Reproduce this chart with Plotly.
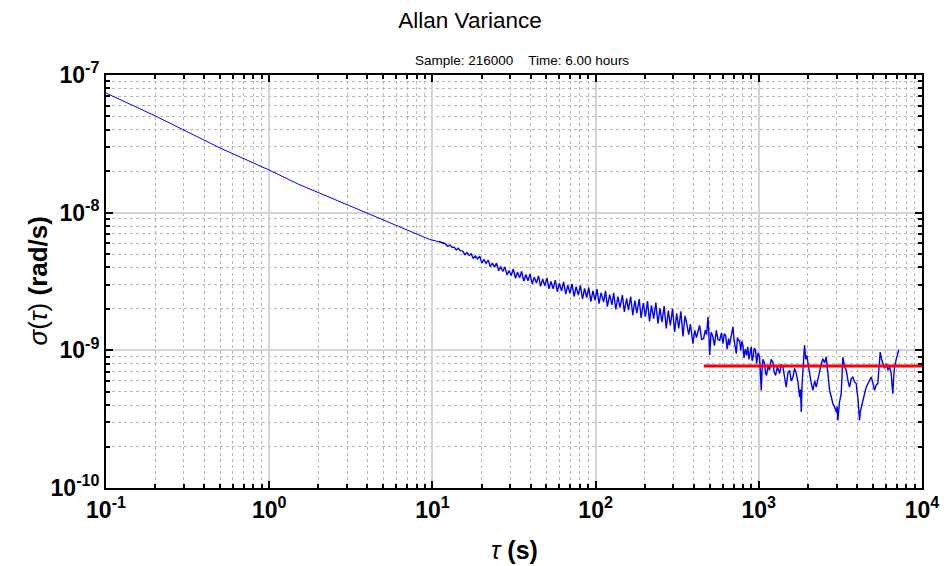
import plotly.graph_objects as go

# ---------------- data ----------------
# smooth, low-noise part (angle random walk region)
tau_smooth = [0.1, 0.2, 0.5, 1.0, 1.51, 4.77, 9.64, 11]
sigma_smooth = [7.4e-8, 5.05e-8, 2.95e-8, 2.04e-8, 1.61e-8, 9.08e-9, 6.38e-9, 6.15e-9]

# noisy band in the middle (values in 1e-9 rad/s)
tau_mid = [12, 12.4, 12.8, 13.2, 13.6, 14, 14.4, 14.8, 15.3, 15.8, 16.3, 16.8, 17.3, 17.8,
           18.3, 18.9, 19.5, 20.1, 20.7, 21.3, 22, 22.6, 23.3, 24, 24.7, 25.5, 26.2, 27,
           27.8, 28.7, 29.5, 30.4, 31.3, 32.3, 33.2, 34.2, 35.2, 36.3, 37.4, 38.5, 39.7,
           40.9, 42.1, 43.4, 44.7, 46, 47.4, 48.8, 50.3, 51.8, 53.3, 54.9, 56.6, 58.3, 60,
           61.8, 63.7, 65.6, 67.6, 69.6, 71.7, 73.8, 76, 78.3, 80.7, 83.1, 85.6, 88.1, 90.8,
           93.5, 96.3, 99.2, 102, 105, 108, 112, 115, 118, 122, 126, 129, 133, 137, 141, 146,
           150, 155, 159, 164, 169, 174, 179, 185, 190, 196, 202, 208, 214, 220, 227, 234,
           241, 248, 255, 263, 271, 279, 287, 296, 305, 314, 323, 333, 343, 353]
sigma_mid_e9 = [5.95, 5.70, 5.82, 5.60, 5.62, 5.36, 5.52, 5.30, 5.28, 4.96, 5.14, 4.90, 5.02,
                4.64, 4.86, 4.62, 4.82, 4.30, 4.58, 4.28, 4.52, 4.06, 4.30, 4.02, 4.30, 3.78,
                4.06, 3.74, 4.04, 3.52, 3.80, 3.50, 3.90, 3.34, 3.70, 3.36, 3.74, 3.18, 3.56,
                3.20, 3.58, 3.04, 3.40, 3.08, 3.48, 2.92, 3.30, 2.94, 3.36, 2.80, 3.16, 2.80,
                3.24, 2.66, 3.08, 2.70, 3.14, 2.56, 2.98, 2.60, 3.04, 2.46, 2.90, 2.52, 2.96,
                2.36, 2.82, 2.42, 2.86, 2.26, 2.70, 2.32, 2.78, 2.18, 2.62, 2.24, 2.70, 2.08,
                2.54, 2.14, 2.62, 1.98, 2.46, 2.04, 2.52, 1.90, 2.38, 1.96, 2.46, 1.80, 2.30,
                1.86, 2.36, 1.72, 2.20, 1.76, 2.28, 1.62, 2.12, 1.70, 2.22, 1.56, 2.02, 1.60,
                2.10, 1.44, 1.94, 1.52, 2.00, 1.36, 1.86, 1.44, 1.92, 1.26, 1.78]

# strongly fluctuating tail (values in 1e-10 rad/s)
tau_tail = [360, 372, 381, 395, 405, 415, 434, 446, 459, 470, 479, 488, 494, 500, 510, 521,
            535, 549, 562, 576, 590, 603, 614, 626, 640, 652, 662, 678, 694, 705, 716, 728,
            740, 750, 763, 775, 788, 799, 812, 826, 842, 856, 870, 885, 899, 910, 920, 938,
            955, 970, 990, 1011, 1022, 1035, 1048, 1060, 1085, 1100, 1116, 1140, 1164, 1190,
            1220, 1240, 1267, 1300, 1341, 1370, 1405, 1440, 1473, 1510, 1544, 1580, 1619,
            1655, 1698, 1740, 1779, 1800, 1821, 1840, 1862, 1885, 1907, 1940, 1971, 2010,
            2047, 2095, 2145, 2200, 2249, 2300, 2355, 2410, 2468, 2530, 2588, 2620, 2649,
            2680, 2716, 2780, 2844, 2910, 2985, 3020, 3050, 3120, 3200, 3240, 3273, 3350,
            3436, 3520, 3597, 3680, 3770, 3860, 3954, 4000, 4046, 4090, 4141, 4190, 4243,
            4340, 4446, 4550, 4659, 4770, 4886, 5000, 5118, 5240, 5360, 5450, 5546, 5650,
            5754, 5900, 6050, 6177, 6330, 6477, 6550, 6626, 6700, 6786, 6950, 7113, 7213]
sigma_tail_e10 = [16.1, 13.0, 15.5, 11.2, 14.0, 12.4, 15.2, 12.0, 12.2, 14.0, 13.0, 17.5,
                  13.5, 9.2, 13.5, 12.8, 10.8, 14.0, 12.0, 11.8, 13.4, 11.2, 13.2, 12.8,
                  10.2, 12.2, 10.9, 12.5, 14.8, 12.0, 10.4, 9.46, 12.4, 11.8, 11.8, 10.0,
                  11.6, 10.9, 8.8, 10.2, 9.2, 10.6, 8.6, 9.8, 10.6, 8.4, 8.7, 10.4, 10.0,
                  8.0, 9.6, 8.94, 7.2, 5.12, 7.4, 8.6, 8.0, 6.8, 6.58, 7.8, 7.16, 8.6, 8.22,
                  7.0, 6.58, 7.6, 6.77, 7.9, 7.56, 6.2, 5.41, 6.9, 7.16, 6.0, 6.40, 7.4, 6.77,
                  5.8, 4.57, 5.2, 3.56, 5.6, 7.16, 9.4, 10.9, 8.6, 9.2, 7.8, 6.77, 5.8, 5.12,
                  6.0, 5.41, 6.2, 6.77, 7.9, 8.7, 8.1, 8.94, 7.8, 7.16, 6.0, 5.12, 4.6, 4.09,
                  3.9, 3.56, 3.9, 3.10, 4.2, 4.84, 6.8, 8.94, 7.6, 7.16, 6.0, 5.41, 6.2, 6.40,
                  5.9, 5.73, 5.0, 4.57, 3.8, 3.10, 3.6, 3.87, 4.4, 4.84, 5.4, 5.73, 6.2, 6.40,
                  5.8, 5.12, 5.6, 5.73, 7.5, 9.72, 8.6, 8.0, 7.4, 8.0, 7.16, 7.6, 6.77, 5.6,
                  4.84, 6.3, 7.56, 8.6, 9.72, 10.1]

# bias-instability level (red line)
tau_bias = [460, 10000]
sigma_bias = [7.7e-10, 7.7e-10]

# tick labels
x_tick_vals = [1e-1, 1e0, 1e1, 1e2, 1e3, 1e4]
x_tick_text = ["10<sup>-1</sup>", "10<sup>0</sup>", "10<sup>1</sup>", "10<sup>2</sup>",
               "10<sup>3</sup>", "10<sup>4</sup>"]
y_tick_vals = [1e-10, 1e-9, 1e-8, 1e-7]
y_tick_text = ["10<sup>-10</sup>", "10<sup>-9</sup>", "10<sup>-8</sup>", "10<sup>-7</sup>"]

title_text = "Allan Variance"
subtitle_text = "Sample: 216000&nbsp;&nbsp;&nbsp;&nbsp;Time: 6.00 hours"
x_title = "<i>τ</i> <b>(s)</b>"
y_title = "<i>σ</i>(<i>τ</i>) <b>(rad/s)</b>"

# ---------------- figure ----------------
sigma_noisy = [v * 1e-9 for v in sigma_mid_e9] + [v * 1e-10 for v in sigma_tail_e10]

fig = go.Figure()
# thin, smooth start of the curve
fig.add_trace(go.Scatter(x=tau_smooth + tau_mid[:1], y=sigma_smooth + sigma_noisy[:1],
                         mode="lines", line=dict(color="#0000ff", width=1),
                         showlegend=False))
# dense, noisy continuation of the same curve
fig.add_trace(go.Scatter(x=tau_smooth[-1:] + tau_mid + tau_tail,
                         y=sigma_smooth[-1:] + sigma_noisy,
                         mode="lines", line=dict(color="#0000ff", width=1.4),
                         showlegend=False))
fig.add_trace(go.Scatter(x=tau_bias, y=sigma_bias, mode="lines",
                         line=dict(color="#ff0000", width=3), showlegend=False))


def minor_vals(lo, hi):
    out = []
    for e in range(lo, hi):
        for m in range(2, 10):
            out.append(m * 10.0 ** e)
    return out


font_family = "Liberation Sans, Arial, sans-serif"
axis_common = dict(
    type="log", automargin=False,
    showline=True, linecolor="black", linewidth=2, mirror="allticks",
    ticks="inside", ticklen=7, tickwidth=2, tickcolor="black",
    showgrid=True, gridcolor="#d4d4d4", gridwidth=1.5,
    zeroline=False,
    tickmode="array",
    tickfont=dict(family=font_family, size=23, color="black", weight="bold"),
)

fig.update_xaxes(**axis_common, range=[-1, 4], tickvals=x_tick_vals, ticktext=x_tick_text,
                 minor=dict(tickmode="array", tickvals=minor_vals(-1, 4), ticks="inside",
                            ticklen=4, tickwidth=1.5, tickcolor="black", showgrid=True,
                            gridcolor="#b8b8b8", griddash="dot", gridwidth=1))
fig.update_yaxes(**axis_common, range=[-10, -7], tickvals=y_tick_vals, ticktext=y_tick_text,
                 minor=dict(tickmode="array", tickvals=minor_vals(-10, -7), ticks="inside",
                            ticklen=4, tickwidth=1.5, tickcolor="black", showgrid=True,
                            gridcolor="#b8b8b8", griddash="dot", gridwidth=1))

fig.update_layout(
    width=944, height=566,
    margin=dict(l=106, r=22, t=75, b=78, autoexpand=False),
    paper_bgcolor="white", plot_bgcolor="white",
    font=dict(family=font_family, color="black"),
    title=dict(text=title_text, x=470 / 944, xanchor="center",
               y=1 - 20 / 566, yanchor="middle",
               font=dict(family=font_family, size=22.5, color="black")),
    annotations=[
        dict(text=subtitle_text, xref="paper", yref="paper", x=(522 - 106) / 816,
             y=1 + 15 / 413, xanchor="center", yanchor="middle", showarrow=False,
             font=dict(family=font_family, size=13.5, color="black")),
        dict(text=x_title, xref="paper", yref="paper", x=0.5, y=-(550 - 488) / 413,
             xanchor="center", yanchor="middle", showarrow=False,
             font=dict(family=font_family, size=25, color="black")),
        dict(text=y_title, xref="paper", yref="paper", x=-(106 - 37) / 816, y=0.5,
             xanchor="center", yanchor="middle", showarrow=False, textangle=-90,
             font=dict(family=font_family, size=26, color="black")),
    ],
)

fig.write_html("out.html")
